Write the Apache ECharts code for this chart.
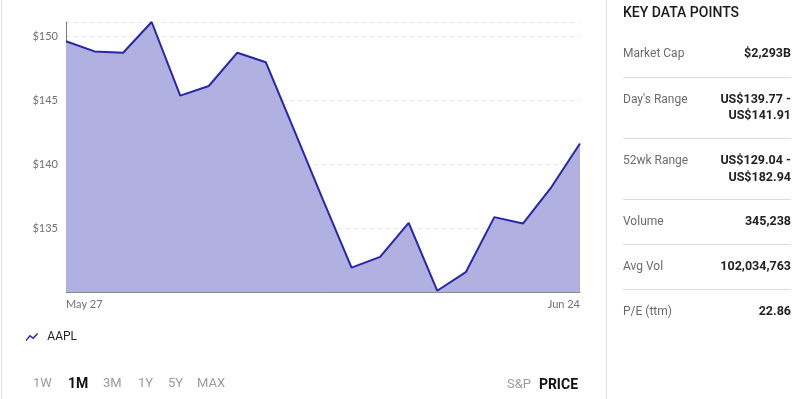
<!DOCTYPE html>
<html><head><meta charset="utf-8">
<script src="https://cdn.jsdelivr.net/npm/echarts@6/dist/echarts.min.js"></script>
<style>html,body{margin:0;padding:0;background:#fff}#c{width:801px;height:399px}</style>
</head><body><div id="c"></div>
<script>
const dates = ["May 27","May 31","Jun 1","Jun 2","Jun 3","Jun 6","Jun 7","Jun 8","Jun 9","Jun 10","Jun 13","Jun 14","Jun 15","Jun 16","Jun 17","Jun 21","Jun 22","Jun 23","Jun 24"];
const prices = [149.6,148.8,148.7,151.1,145.35,146.1,148.7,147.95,142.6,137.2,131.9,132.75,135.4,130.1,131.55,135.85,135.35,138.2,141.6];
const yTicks = [135,140,145,150];
const ranges = ["1W","1M","3M","1Y","5Y","MAX"];
const keyLabels = ["Market Cap","Day's Range","52wk Range","Volume","Avg Vol","P/E (ttm)"];
const keyValues = [["$2,293B"],["US$139.77 -","US$141.91"],["US$129.04 -","US$182.94"],["345,238"],["102,034,763"],["22.86"]];

const chart = echarts.init(document.getElementById('c'), null, {renderer:'canvas'});
const LINE = '#2626ac', AREA = '#b0b1e1';
const graphics = [];
graphics.push({type:'line', shape:{x1:1.5,y1:0,x2:1.5,y2:399}, style:{stroke:'#dedede',lineWidth:1}});
graphics.push({type:'line', shape:{x1:606.5,y1:0,x2:606.5,y2:399}, style:{stroke:'#dedede',lineWidth:1}});
graphics.push({type:'text', left:623, top:6, style:{text:'KEY DATA POINTS', font:'500 14px Roboto', fill:'#1a1a1a'}});
const rowY = [54,99.5,161,222,267,312];
const divY = [77.5,138.5,199.5,244.5,289.5];
keyLabels.forEach((l,i)=>{
  graphics.push({type:'text', x:623, y:rowY[i], style:{text:l, font:'12px Roboto', fill:'#6b6b6b', textVerticalAlign:'middle'}});
  keyValues[i].forEach((v,j)=>{
    graphics.push({type:'text', x:791, y:rowY[i]+j*16.5, style:{text:v, font:'bold 12.5px Roboto', fill:'#222', textAlign:'right', textVerticalAlign:'middle'}});
  });
});
divY.forEach(y=>graphics.push({type:'line', shape:{x1:623,y1:y,x2:791,y2:y}, style:{stroke:'#dcdcdc',lineWidth:1}}));
const rx = [33,68,103,138,168,197];
ranges.forEach((r,i)=>{
  const act = r==='1M';
  graphics.push({type:'text', x:rx[i], y:384, style:{text:r, font:(act?'bold 14px':'13px')+' Roboto', fill:act?'#111':'#9a9a9a', textVerticalAlign:'middle'}});
});
graphics.push({type:'text', x:531, y:385, style:{text:'S&P', font:'13px Roboto', fill:'#9a9a9a', textAlign:'right', textVerticalAlign:'middle'}});
graphics.push({type:'text', x:578, y:385, style:{text:'PRICE', font:'bold 14px Roboto', fill:'#111', textAlign:'right', textVerticalAlign:'middle'}});

chart.setOption({
  animation:false,
  grid:{left:66,right:221,top:22,bottom:107,containLabel:false},
  legend:{left:26,top:331,padding:0,itemWidth:15,itemHeight:9,itemGap:8,
    icon:'path://M0,9 L5,3 L9,6 L15,0 L15,2.6 L9.3,8.6 L5.3,5.6 L0,11.6 Z',
    textStyle:{fontFamily:'Roboto',fontSize:12,color:'#222',padding:[0,0,0,3]},
    data:[{name:'AAPL',itemStyle:{color:LINE,borderWidth:0}}]},
  xAxis:{type:'category',data:dates,boundaryGap:false,
    axisLine:{lineStyle:{color:'#8a8a8a',width:1}},axisTick:{show:false},
    axisLabel:{interval:(i)=>i===0||i===dates.length-1,margin:7,fontFamily:'Lato',fontSize:11,color:'#707070',
      alignMinLabel:'left',alignMaxLabel:'right'},
    splitLine:{show:false}},
  yAxis:{type:'value',min:130,max:151.1,interval:5,
    axisLine:{show:true,lineStyle:{color:'#777',width:1}},axisTick:{show:false},
    axisLabel:{margin:8,fontFamily:'Lato',fontSize:11,color:'#707070',
      formatter:(v)=>yTicks.includes(v)?'$'+v:''},
    splitLine:{show:true,lineStyle:{color:'#e6e6e6',type:[4,4],width:1}}},
  series:[{name:'AAPL',type:'line',data:prices,symbol:'none',
    lineStyle:{color:LINE,width:2},itemStyle:{color:LINE},
    areaStyle:{color:AREA,opacity:1}}],
  graphic:graphics
});
</script></body></html>
